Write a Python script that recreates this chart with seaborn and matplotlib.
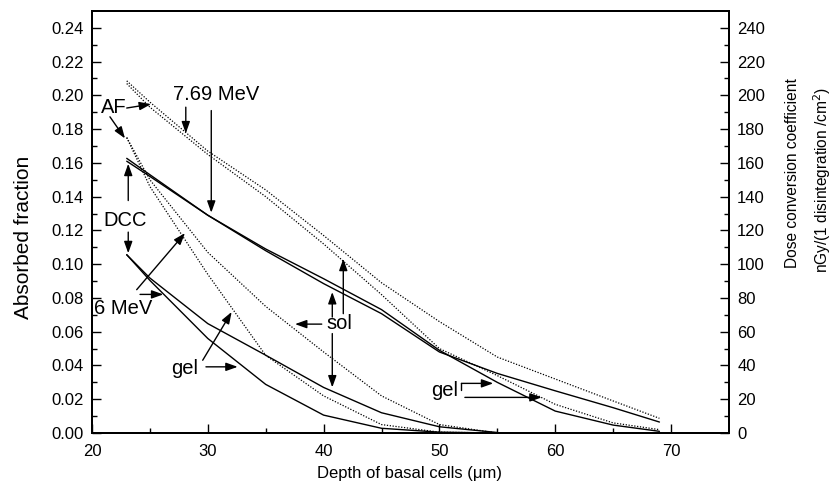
import pandas as pd
import seaborn as sns
import matplotlib.pyplot as plt

# Depth points (um)
depth_769 = [23, 25, 30, 35, 40, 45, 50, 55, 60, 65, 69]
depth_6 = [23, 25, 30, 35, 40, 45, 50, 55]

# 7.69 MeV: absorbed fraction (dotted) and DCC (solid, right axis)
af_769_sol = [0.2086, 0.196, 0.167, 0.144, 0.117, 0.089, 0.066, 0.045, 0.032, 0.019, 0.0087]
af_769_gel = [0.2070, 0.193, 0.165, 0.140, 0.112, 0.082, 0.050, 0.034, 0.017, 0.006, 0.002]
dcc_769_a = [162.7, 153, 129, 109, 91.4, 73.1, 49, 30, 13, 4.7, 1.0]
dcc_769_b = [161, 152, 129, 108, 88.5, 70.7, 48, 35.3, 25, 15, 6.5]

# 6 MeV
af_6_sol = [0.175, 0.150, 0.107, 0.075, 0.048, 0.022, 0.005, 0.0]
af_6_gel = [0.175, 0.146, 0.094, 0.046, 0.022, 0.005, 0.0005, 0.0]
dcc_6_a = [105.6, 91.8, 64.8, 46.1, 27, 12, 3.7, 0.3]
dcc_6_b = [105.6, 90.4, 56, 28.8, 10.6, 2.8, 0.5, 0.0]

sns.set_style("ticks")
plt.rcParams['font.family'] = ['Liberation Sans', 'DejaVu Sans']
plt.rcParams['text.color'] = 'black'
plt.rcParams['axes.labelcolor'] = 'black'
plt.rcParams['xtick.color'] = 'black'
plt.rcParams['ytick.color'] = 'black'
plt.rcParams['axes.edgecolor'] = 'black'

fig = plt.figure(figsize=(8.34, 4.98), dpi=100)
ax = fig.add_axes([0.1103, 0.1305, 0.7637, 0.8475])
ax2 = ax.twinx()

dots = (0, (1, 1.3))
for ys in [af_769_sol, af_769_gel]:
    d = pd.DataFrame({'x': depth_769, 'y': ys})
    sns.lineplot(data=d, x='x', y='y', ax=ax, color='black', lw=0.9, linestyle=dots,
                 sort=False, estimator=None)
for ys in [af_6_sol, af_6_gel]:
    d = pd.DataFrame({'x': depth_6, 'y': ys})
    sns.lineplot(data=d, x='x', y='y', ax=ax, color='black', lw=0.9, linestyle=dots,
                 sort=False, estimator=None)
for ys in [dcc_769_a, dcc_769_b]:
    d = pd.DataFrame({'x': depth_769, 'y': ys})
    sns.lineplot(data=d, x='x', y='y', ax=ax2, color='black', lw=1.0,
                 sort=False, estimator=None)
for ys in [dcc_6_a, dcc_6_b]:
    d = pd.DataFrame({'x': depth_6, 'y': ys})
    sns.lineplot(data=d, x='x', y='y', ax=ax2, color='black', lw=1.0,
                 sort=False, estimator=None)

ax.set_xlim(20, 75)
ax.set_ylim(0, 0.25)
ax2.set_ylim(0, 250)
ax.set_xticks(range(20, 80, 10))
ax.set_xticks(range(25, 75, 10), minor=True)
ax.set_yticks([i * 0.02 for i in range(13)])
ax.set_yticklabels([f"{i * 0.02:.2f}" for i in range(13)])
ax.set_yticks([i * 0.01 for i in range(1, 25, 2)], minor=True)
ax2.set_yticks(range(0, 260, 20))
ax2.set_yticks(range(10, 250, 20), minor=True)

for a in (ax, ax2):
    a.tick_params(which='major', direction='in', length=6.5, width=1, labelsize=12, pad=6)
    a.tick_params(which='minor', direction='in', length=3.5, width=1)
    for s in a.spines.values():
        s.set_linewidth(1.4)
        s.set_visible(True)
ax.tick_params(axis='x', pad=8)
ax2.tick_params(axis='y', which='both', right=True, left=False)

ax.set_xlabel("Depth of basal cells (\u03bcm)", fontsize=12)
ax.xaxis.set_label_coords(0.499, -0.097)
ax.xaxis.label.set_va('center')
ax.set_ylabel("Absorbed fraction", fontsize=15)
ax.yaxis.set_label_coords(-0.1075, 0.464)
ax.yaxis.label.set_va('center')
ax2.set_ylabel("")
ax.text(1.1005, 0.616, "Dose conversion coefficient", fontsize=11.2, rotation=90,
        ha='center', va='center', transform=ax.transAxes)
ax.text(1.146, 0.600, "nGy/(1 disintegration /cm$^2$)", fontsize=11.2, rotation=90,
        ha='center', va='center', transform=ax.transAxes)

arw = dict(arrowstyle='-|>,head_length=0.7,head_width=0.25', color='black', lw=1,
           shrinkA=0, shrinkB=0, mutation_scale=10)


def arrow(x0, y0, x1, y1):
    ax.annotate('', xy=(x1, y1), xytext=(x0, y0), arrowprops=arw)


fs = 14.5
ax.text(21.85, 0.193, "AF", fontsize=fs, ha='center', va='center')
arrow(23.0, 0.1925, 25.1, 0.1948)
arrow(21.55, 0.1873, 22.85, 0.1745)

ax.text(30.7, 0.2006, "7.69 MeV", fontsize=fs, ha='center', va='center')
arrow(28.1, 0.193, 28.1, 0.1775)
arrow(30.3, 0.191, 30.3, 0.1305)

ax.text(22.9, 0.1259, "DCC", fontsize=fs, ha='center', va='center')
arrow(23.13, 0.1377, 23.13, 0.1595)
arrow(23.13, 0.119, 23.13, 0.1065)

ax.text(22.7, 0.0735, "6 MeV", fontsize=fs, ha='center', va='center')
arrow(23.86, 0.0849, 28.03, 0.1184)
arrow(24.15, 0.0821, 26.16, 0.0821)

ax.text(28.0, 0.0385, "gel", fontsize=fs, ha='center', va='center')
arrow(29.56, 0.0431, 32.06, 0.0717)
arrow(29.84, 0.0392, 32.58, 0.0392)

ax.text(41.33, 0.0648, "sol", fontsize=fs, ha='center', va='center')
arrow(39.84, 0.0645, 37.53, 0.0645)
arrow(40.75, 0.0687, 40.75, 0.0835)
arrow(41.7, 0.0707, 41.7, 0.1032)
arrow(40.75, 0.0589, 40.75, 0.027)

ax.text(50.48, 0.0252, "gel", fontsize=fs, ha='center', va='center')
ax.plot([51.9, 51.9], [0.0254, 0.0294], color='black', lw=1)
arrow(51.9, 0.0294, 54.65, 0.0294)
arrow(52.2, 0.0211, 58.83, 0.0211)

fig.savefig("out.png", dpi=100)
